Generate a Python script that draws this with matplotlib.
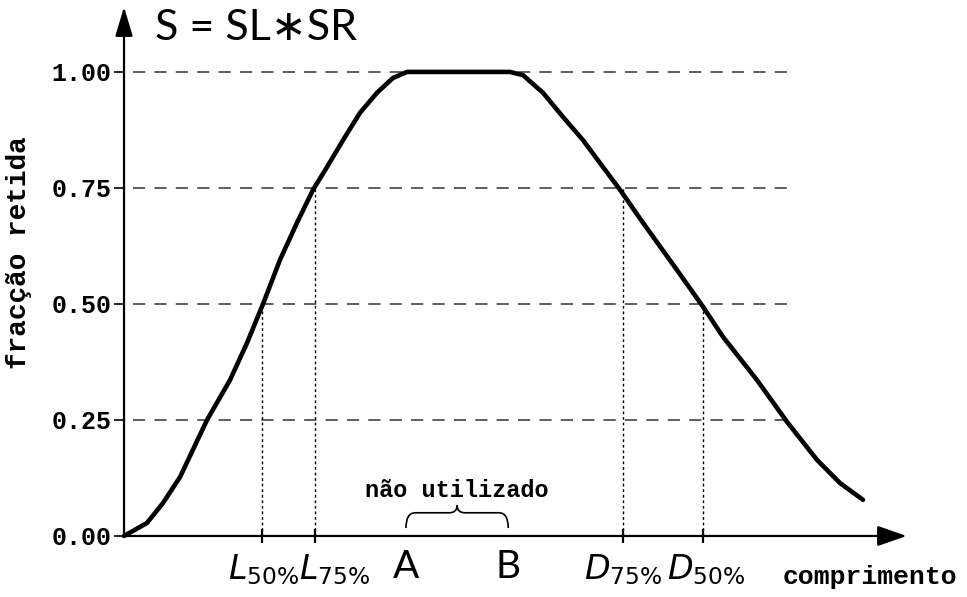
import matplotlib
matplotlib.use("Agg")
import matplotlib.pyplot as plt
from matplotlib.path import Path
from matplotlib.patches import PathPatch

# ---- data ----
curve_x = [0.0, 2.94, 4.99, 7.17, 10.63, 13.57, 15.75, 17.80, 19.97, 22.15,
           24.20, 25.99, 28.04, 30.22, 32.39, 34.44, 36.24, 49.42, 51.09,
           53.65, 56.21, 58.77, 61.33, 63.51, 66.45, 70.81, 74.14, 76.70,
           81.05, 84.89, 88.73, 91.68, 94.62]
curve_y = [0.0, 0.028, 0.071, 0.127, 0.25, 0.336, 0.416, 0.50, 0.595, 0.675,
           0.746, 0.795, 0.853, 0.912, 0.955, 0.987, 1.0, 1.0, 0.993,
           0.955, 0.903, 0.853, 0.795, 0.746, 0.675, 0.573, 0.494, 0.429,
           0.336, 0.246, 0.164, 0.114, 0.078]

ytick_vals = [0.0, 0.25, 0.5, 0.75, 1.0]
ytick_labels = ["0.00", "0.25", "0.50", "0.75", "1.00"]

mark_x = [17.7, 24.4, 63.9, 74.1]
mark_y = [0.50, 0.75, 0.75, 0.50]
mark_labels = [r"$\mathit{L}_{\mathit{50\%}}$", r"$\mathit{L}_{\mathit{75\%}}$",
               r"$\mathit{D}_{\mathit{75\%}}$", r"$\mathit{D}_{\mathit{50\%}}$"]
mark_label_dx = [0.2, 2.6, 0.0, 0.4]   # label placement nudges

ab_x = [36.1, 49.2]
ab_labels = ["A", "B"]

title_text = "S = SL\u2217SR"
ylabel_text = "fracção retida"
xlabel_text = "comprimento"
unused_text = "não utilizado"

# ---- figure ----
plt.rcParams["mathtext.fontset"] = "dejavusans"
fig = plt.figure(figsize=(9.67, 5.97), dpi=100)
ax = fig.add_axes([0, 0, 1, 1])
ax.set_xlim(-15.88, 107.94)
ax.set_ylim(-0.1315, 1.155)
for s in ax.spines.values():
    s.set_visible(False)
ax.spines["left"].set_position(("data", 0))
ax.spines["bottom"].set_position(("data", 0))

mono = ["Liberation Mono", "DejaVu Sans Mono"]
thin = ["Lato", "DejaVu Sans"]

# horizontal dashed lines
for yv in ytick_vals[1:]:
    ax.plot([1.2, 85.3], [yv, yv], color="#333333", lw=1.1,
            dashes=(8, 6), zorder=1)

# vertical dotted lines
for xv, yv in zip(mark_x, mark_y):
    ax.plot([xv, xv], [0, yv], color="black", lw=1.0,
            dashes=(2, 2), zorder=1)

# main curve
ax.plot(curve_x, curve_y, color="black", lw=3.3, solid_capstyle="round",
        solid_joinstyle="round", zorder=3)

# axes with arrows
ax.annotate("", xy=(100.2, 0), xytext=(0, 0),
            arrowprops=dict(arrowstyle="-|>,head_length=1.0,head_width=0.35",
                            lw=1.6, color="black", shrinkA=0, shrinkB=0,
                            mutation_scale=18))
ax.annotate("", xy=(0, 1.14), xytext=(0, 0),
            arrowprops=dict(arrowstyle="-|>,head_length=1.0,head_width=0.3",
                            lw=1.6, color="black", shrinkA=0, shrinkB=0,
                            mutation_scale=18))

# y ticks
ax.set_yticks(ytick_vals)
ax.set_yticklabels(ytick_labels, fontfamily=mono, fontweight="bold",
                   fontsize=18)
ax.tick_params(axis="y", direction="out", length=7, width=1.2, pad=2)

# x ticks (marks only, labels placed as texts)
ax.set_xticks(mark_x)
ax.set_xticklabels([""] * len(mark_x))
ax.tick_params(axis="x", direction="inout", length=10, width=1.6)
for xv, dx, lab in zip(mark_x, mark_label_dx, mark_labels):
    ax.text(xv + dx, -0.072, lab, ha="center", va="center", fontsize=24)

for xv, lab in zip(ab_x, ab_labels):
    ax.text(xv, -0.066, lab, ha="center", va="center", fontsize=28,
            fontfamily=thin, fontweight="normal", fontstretch="condensed")

# title
ax.text(16.9, 1.095, title_text, ha="center", va="center", fontsize=31,
        fontfamily=thin, fontweight="normal")

# y label
ax.text(-13.5, 0.61, ylabel_text, rotation=90, ha="center", va="center",
        fontfamily=mono, fontweight="bold", fontsize=20)

# x label
ax.text(95.5, -0.088, xlabel_text, ha="center", va="center",
        fontfamily=mono, fontweight="bold", fontsize=19)

# brace + text
x0, x1 = ab_x[0], ab_x[1]
xm = (x0 + x1) / 2
yb, yt, yp = 0.017, 0.050, 0.066
verts = [(x0, yb), (x0, yt), (x0 + 1.2, yt),
         (xm - 1.0, yt),
         (xm, yt), (xm, yp),
         (xm, yt), (xm + 1.0, yt),
         (x1 - 1.2, yt),
         (x1, yt), (x1, yb)]
codes = [Path.MOVETO, Path.CURVE3, Path.CURVE3,
         Path.LINETO,
         Path.CURVE3, Path.CURVE3,
         Path.CURVE3, Path.CURVE3,
         Path.LINETO,
         Path.CURVE3, Path.CURVE3]
ax.add_patch(PathPatch(Path(verts, codes), fill=False, lw=1.2,
                       edgecolor="black"))
ax.text(xm, 0.099, unused_text, ha="center", va="center",
        fontfamily=mono, fontweight="bold", fontsize=17)

fig.savefig("out.png", dpi=100)
